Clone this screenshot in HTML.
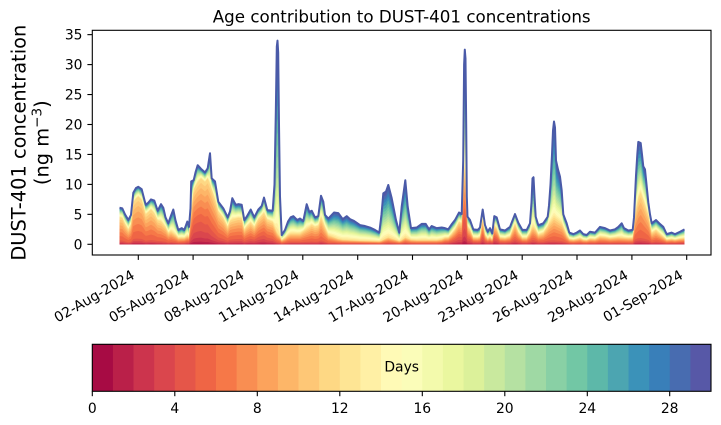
<!DOCTYPE html>
<html>
<head>
<meta charset="utf-8">
<style>
html,body{margin:0;padding:0;background:#fff;}
svg{display:block;}
text{font-family:"DejaVu Sans","Liberation Sans",sans-serif;fill:#000;}
</style>
</head>
<body>
<svg id="s" width="721" height="425" viewBox="0 0 721 425" xmlns="http://www.w3.org/2000/svg">
<rect x="0" y="0" width="721" height="425" fill="#fff"/>
<g id="layers"></g>
<polyline id="top" fill="none" stroke="#4a5aa8" stroke-width="2" stroke-linejoin="round"/>
<rect x="92.3" y="30.3" width="618.7" height="224.7" fill="none" stroke="#000" stroke-width="1.1"/>
<!-- y ticks -->
<g stroke="#000" stroke-width="1.1">
<line x1="87.4" y1="244.3" x2="92.3" y2="244.3"/>
<line x1="87.4" y1="214.35" x2="92.3" y2="214.35"/>
<line x1="87.4" y1="184.4" x2="92.3" y2="184.4"/>
<line x1="87.4" y1="154.45" x2="92.3" y2="154.45"/>
<line x1="87.4" y1="124.5" x2="92.3" y2="124.5"/>
<line x1="87.4" y1="94.55" x2="92.3" y2="94.55"/>
<line x1="87.4" y1="64.6" x2="92.3" y2="64.6"/>
<line x1="87.4" y1="34.65" x2="92.3" y2="34.65"/>
</g>
<g font-size="13.9" text-anchor="end">
<text x="82.5" y="249.3">0</text>
<text x="82.5" y="219.35">5</text>
<text x="82.5" y="189.4">10</text>
<text x="82.5" y="159.45">15</text>
<text x="82.5" y="129.5">20</text>
<text x="82.5" y="99.55">25</text>
<text x="82.5" y="69.6">30</text>
<text x="82.5" y="39.65">35</text>
</g>
<!-- x ticks -->
<g stroke="#000" stroke-width="1.1">
<line x1="138.3" y1="255" x2="138.3" y2="259.9"/>
<line x1="193.1" y1="255" x2="193.1" y2="259.9"/>
<line x1="248.0" y1="255" x2="248.0" y2="259.9"/>
<line x1="302.8" y1="255" x2="302.8" y2="259.9"/>
<line x1="357.7" y1="255" x2="357.7" y2="259.9"/>
<line x1="412.5" y1="255" x2="412.5" y2="259.9"/>
<line x1="467.3" y1="255" x2="467.3" y2="259.9"/>
<line x1="522.2" y1="255" x2="522.2" y2="259.9"/>
<line x1="577.0" y1="255" x2="577.0" y2="259.9"/>
<line x1="631.9" y1="255" x2="631.9" y2="259.9"/>
<line x1="686.7" y1="255" x2="686.7" y2="259.9"/>
</g>
<g font-size="13.9" text-anchor="end">
<text transform="translate(135.5,277.8) rotate(-30)">02-Aug-2024</text>
<text transform="translate(190.3,277.8) rotate(-30)">05-Aug-2024</text>
<text transform="translate(245.2,277.8) rotate(-30)">08-Aug-2024</text>
<text transform="translate(300.0,277.8) rotate(-30)">11-Aug-2024</text>
<text transform="translate(354.9,277.8) rotate(-30)">14-Aug-2024</text>
<text transform="translate(409.7,277.8) rotate(-30)">17-Aug-2024</text>
<text transform="translate(464.5,277.8) rotate(-30)">20-Aug-2024</text>
<text transform="translate(519.4,277.8) rotate(-30)">23-Aug-2024</text>
<text transform="translate(574.2,277.8) rotate(-30)">26-Aug-2024</text>
<text transform="translate(629.1,277.8) rotate(-30)">29-Aug-2024</text>
<text transform="translate(683.9,277.8) rotate(-30)">01-Sep-2024</text>
</g>
<!-- title -->
<text x="401.7" y="22.5" font-size="16.7" text-anchor="middle">Age contribution to DUST-401 concentrations</text>
<!-- y label -->
<text transform="translate(25.5,142.7) rotate(-90)" font-size="19.4" text-anchor="middle">DUST-401 concentration</text>
<text transform="translate(48.5,142.7) rotate(-90)" font-size="19.4" text-anchor="middle">(ng m<tspan dy="-7" font-size="13.6">−3</tspan><tspan dy="7">)</tspan></text>
<!-- colorbar -->
<g id="cbar"></g>
<rect x="92.3" y="344.3" width="618.7" height="47" fill="none" stroke="#000" stroke-width="1.1"/>
<text x="401.7" y="371.5" font-size="13.9" text-anchor="middle">Days</text>
<g stroke="#000" stroke-width="1.1">
<line x1="92.3" y1="391.3" x2="92.3" y2="396.2"/>
<line x1="174.8" y1="391.3" x2="174.8" y2="396.2"/>
<line x1="257.3" y1="391.3" x2="257.3" y2="396.2"/>
<line x1="339.8" y1="391.3" x2="339.8" y2="396.2"/>
<line x1="422.3" y1="391.3" x2="422.3" y2="396.2"/>
<line x1="504.8" y1="391.3" x2="504.8" y2="396.2"/>
<line x1="587.3" y1="391.3" x2="587.3" y2="396.2"/>
<line x1="669.7" y1="391.3" x2="669.7" y2="396.2"/>
</g>
<g font-size="13.9" text-anchor="middle">
<text x="92.3" y="413">0</text>
<text x="174.8" y="413">4</text>
<text x="257.3" y="413">8</text>
<text x="339.8" y="413">12</text>
<text x="422.3" y="413">16</text>
<text x="504.8" y="413">20</text>
<text x="587.3" y="413">24</text>
<text x="669.7" y="413">28</text>
</g>
</svg>
<script>
(function(){
const NS='http://www.w3.org/2000/svg';
const A=[[158,1,66],[213,62,79],[244,109,67],[253,174,97],[254,224,139],[255,255,191],[230,245,152],[171,221,164],[102,194,165],[50,136,189],[94,79,162]];
const cols=[];
for(let i=0;i<30;i++){const t=(i+0.5)/3;const k=Math.floor(t);const f=t-k;const c=A[k].map((v,j)=>Math.round(v+(A[k+1][j]-v)*f));cols.push('rgb('+c.join(',')+')');}
const cb=document.getElementById('cbar');
for(let i=0;i<30;i++){const r=document.createElementNS(NS,'rect');r.setAttribute('x',(92.3+i*618.7/30).toFixed(2));r.setAttribute('y',344.3);r.setAttribute('width',(618.7/30+0.4).toFixed(2));r.setAttribute('height',47);r.setAttribute('fill',cols[i]);cb.appendChild(r);}

const env=[[119.5,6.1],[122.3,6.0],[125,5.0],[128.3,4.05],[131,4.9],[133.3,8.6],[136,9.4],[138.3,9.6],[141.7,9.2],[143.5,8.0],[145.7,6.6],[148,6.9],[151,7.5],[154.3,7.3],[157.7,5.6],[161,6.7],[163.3,6.1],[165.5,4.5],[168.3,3.5],[171,4.8],[173.3,5.8],[175.5,4.0],[178.3,2.4],[181.7,2.7],[184.3,2.4],[187.3,3.8],[189,2.9],[190.5,6],[191.2,10.5],[193.7,10.7],[195.5,12.0],[197.7,13.2],[201,12.6],[205,12.0],[207.7,12.7],[210,15.2],[211.7,11.0],[215,10.5],[218.3,7.1],[223.3,6.0],[227.7,4.5],[230,5.5],[232.3,7.7],[235.7,6.6],[238.3,6.7],[241.7,6.6],[244.3,4.05],[246.7,4.6],[250.7,5.8],[254.3,4.5],[258.3,5.8],[261.7,6.4],[264,7.8],[267.3,5.7],[272.7,5.6],[274.5,10],[275.8,22],[276.8,33],[277.5,34],[278.2,32],[279,20],[280,8],[281.7,1.55],[285,2.4],[288,3.8],[290.7,4.5],[293.3,4.7],[297.3,4.05],[300,4.3],[303.3,3.9],[306.7,6.7],[309.3,5.4],[311.7,5.6],[315,4.5],[318.3,4.7],[321,8.1],[323.3,7.1],[325,4.9],[328.3,4.3],[334,5.3],[338.3,5.2],[342.7,4.2],[346.7,4.7],[350,4.2],[354,3.9],[360,3.2],[365,3.05],[370,2.8],[375,2.4],[379.3,1.95],[381.5,5],[383.3,8.5],[386,8.8],[388.3,9.9],[391.7,7.7],[396,4.05],[399.3,1.95],[401.7,6.3],[405.3,10.7],[407.7,6.3],[411,2.7],[416.7,2.8],[421.7,3.4],[425.7,3.4],[429,2.5],[431.7,3.05],[436.7,2.7],[441.7,2.8],[445,2.7],[448.3,2.5],[451.5,3.3],[455,4.05],[459,5.3],[461.7,5.05],[463.2,14],[464.1,30],[464.8,32.5],[465.5,31],[466.2,20],[466.8,8],[467.5,4.6],[470,4.05],[473.3,2.5],[477.7,2.4],[480,2.8],[482.7,5.8],[485,3.2],[487.7,2.1],[490,2.7],[492.3,1.8],[494.3,4.7],[496.7,4.5],[500,2.5],[505,2.3],[510,2.9],[515,5.05],[518.3,3.6],[522.3,2.4],[526.7,2.4],[530,3.5],[531.5,7],[532.5,11],[533.5,11.2],[534.5,8],[535.7,4.6],[538.3,3.2],[543.3,3.5],[547.7,4.6],[549,6.5],[550.5,10],[552,15],[553,19],[554,20.5],[555,19.5],[556,14],[558,12.5],[560,11.3],[561.7,9],[563.3,5],[566.7,3.5],[569.3,1.95],[573.3,1.7],[576.7,1.95],[580,2.3],[583.3,1.7],[586.7,1.55],[590,2.1],[595,1.95],[600,2.9],[605,2.7],[610,2.3],[615,2.5],[618.3,2.9],[621.7,3.5],[624,2.7],[628.3,2.3],[632.7,2.4],[634,4.5],[635,8],[636,11.5],[637.3,15],[638.3,17.1],[640.7,16.9],[642,15],[643.3,13],[645,12.5],[646.5,10],[648.3,7],[650,5],[651.7,3.5],[656,4.05],[659.3,3.5],[663.3,2.9],[666.7,1.7],[671.7,1.95],[675,1.7],[680,2.1],[684.5,2.5]];

const yc=[[120,4.5,0.15],[138,8,0.12],[150,6,0.12],[165,3,0.15],[180,1,0.2],[189,1.5,0.3],[193,9,0.35],[200,11,0.35],[208,11,0.3],[212,9,0.25],[220,5,0.2],[230,4,0.2],[240,4.5,0.2],[250,3.5,0.25],[262,5.5,0.3],[272,4,0.25],[277,2,0.2],[282,0.8,0.2],[290,1.8,0.2],[300,1.8,0.2],[310,3,0.15],[321,4.5,0.15],[328,1.6,0.15],[340,0.8,0.2],[360,0.6,0.25],[380,0.5,0.2],[388,1.2,0.2],[400,0.5,0.2],[405,1.2,0.2],[412,0.7,0.2],[440,0.7,0.2],[450,1.5,0.3],[458,3.5,0.35],[464.8,13,0.35],[468,3.5,0.35],[475,1.2,0.35],[482.7,4.5,0.3],[488,1.2,0.35],[494,3.5,0.35],[500,1.5,0.3],[510,1.8,0.3],[515,3.8,0.25],[522,1.2,0.3],[530,2.2,0.25],[533,3,0.25],[538,2,0.25],[547,3,0.2],[554,4.5,0.15],[562,3.5,0.15],[568,1,0.2],[600,1.5,0.2],[630,1,0.2],[640,9,0.12],[648,5,0.15],[655,2.5,0.2],[665,1,0.25],[685,1,0.3]];

function lin(pts,x,j){if(x<=pts[0][0])return pts[0][j];for(let i=1;i<pts.length;i++){if(x<=pts[i][0]){const a=pts[i-1],b=pts[i];const f=(x-a[0])/(b[0]-a[0]);return a[j]+(b[j]-a[j])*f;}}return pts[pts.length-1][j];}

const Y0=244.3,SY=5.99;
const wr=[0.1,0.3,0.6,1,1.4],wo=[1.4,1.3,1.2,1.1,1,0.9,0.8];
const sr=wr.reduce((a,b)=>a+b,0),so=wo.reduce((a,b)=>a+b,0);
const cum=[];
env.forEach(function(p){
  const x=p[0],T=p[1];
  let y=lin(yc,x,1),rf=lin(yc,x,2);
  const om=Math.min(1.6,0.55*T);
  y=Math.max(0,Math.min(y,T-om));
  const old=T-y;
  const vals=[];
  wr.forEach(w=>vals.push(y*rf*w/sr));
  wo.forEach(w=>vals.push(y*(1-rf)*w/so));
  const k=Math.max(-0.3,Math.min(3,(old-4)/4));
  const wd=[];let sd=0;for(let j=0;j<18;j++){const w=1+k*j/17;wd.push(w);sd+=w;}
  wd.forEach(w=>vals.push(old*w/sd));
  const c=[0];vals.forEach(v=>c.push(c[c.length-1]+v));
  cum.push(c);
});
const L=document.getElementById('layers');
for(let a=29;a>=0;a--){
  let d='M'+env[0][0]+','+Y0;
  env.forEach((p,i)=>{d+=' L'+p[0]+','+(Y0-cum[i][a+1]*SY).toFixed(2);});
  d+=' L'+env[env.length-1][0]+','+Y0+' Z';
  const e=document.createElementNS(NS,'path');e.setAttribute('d',d);e.setAttribute('fill',cols[a]);L.appendChild(e);
}
document.getElementById('top').setAttribute('points',env.map(p=>p[0]+','+(Y0-p[1]*SY).toFixed(2)).join(' '));
})();
</script>
</body>
</html>
